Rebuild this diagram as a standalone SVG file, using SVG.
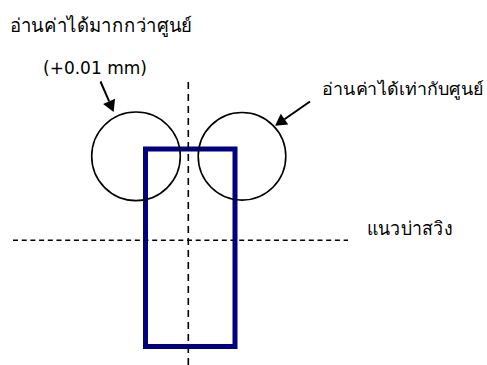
<svg xmlns="http://www.w3.org/2000/svg" width="487" height="365" viewBox="0 0 487 365">
<style>
.lbl{font-family:"DejaVu Sans","Noto Sans","Liberation Sans",sans-serif;fill:#000;}
.th{font-size:19px;font-weight:300;}
.circ{fill:none;stroke:#000;stroke-width:1.6;}
.dash{fill:none;stroke:#000;stroke-width:1.6;}
.arr{fill:none;stroke:#000;stroke-width:2;}
</style>
<defs>
<marker id="ah" markerUnits="userSpaceOnUse" markerWidth="12" markerHeight="14" refX="0" refY="0" orient="auto" style="overflow:visible">
<path d="M0,-6.5 L11.5,0 L0,6.5 Z" fill="#000"/>
</marker>
</defs>
<rect width="487" height="365" fill="#fff"/>
<g id="part">
<rect x="145.5" y="149" width="89.5" height="197.5" fill="none" stroke="#000080" stroke-width="5"/>
</g>
<g id="guides">
<line class="dash" x1="188.3" y1="82" x2="188.3" y2="365" stroke-dasharray="7,5"/>
<line class="dash" x1="13" y1="240.3" x2="348" y2="240.3" stroke-dasharray="5,3.7"/>
</g>
<g id="circle-left">
<circle class="circ" cx="136" cy="156.3" r="44.3"/>
</g>
<g id="circle-right">
<circle class="circ" cx="242" cy="156.3" r="43.8"/>
</g>
<g id="label-top">
<text class="lbl th" x="10" y="32" textLength="182" lengthAdjust="spacingAndGlyphs">อ่านค่าได้มากกว่าศูนย์</text>
</g>
<g id="label-offset">
<text class="lbl" x="43" y="74" font-size="17">(+0.01 mm)</text>
</g>
<g id="label-right">
<text class="lbl" x="322" y="95" font-size="17" font-weight="300" textLength="162" lengthAdjust="spacingAndGlyphs">อ่านค่าได้เท่ากับศูนย์</text>
</g>
<g id="label-shoulder">
<text class="lbl th" x="367" y="235" textLength="85" lengthAdjust="spacingAndGlyphs">แนวบ่าสวิง</text>
</g>
<g id="connectors">
<line class="arr" x1="100.5" y1="81.5" x2="109.1" y2="101.4" marker-end="url(#ah)"/>
<line class="arr" x1="310" y1="101.5" x2="284.5" y2="119.2" marker-end="url(#ah)"/>
</g>
</svg>
